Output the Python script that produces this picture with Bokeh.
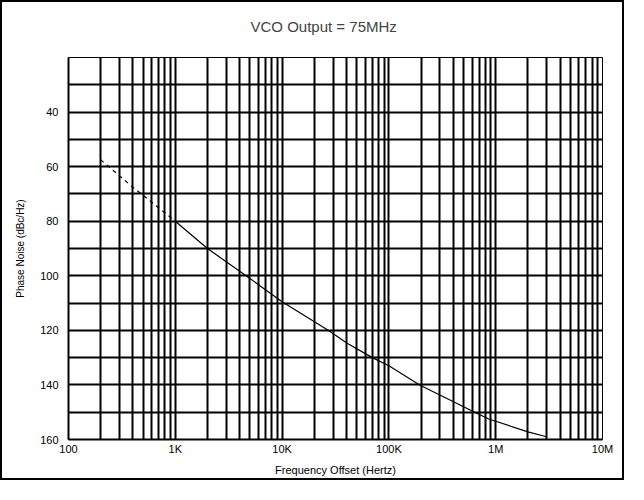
from bokeh.plotting import figure
from bokeh.models import Range1d, FixedTicker, Title
from bokeh.embed import file_html
from bokeh.resources import INLINE

# data
dash_freq = [200, 400, 1000]
dash_noise = [57.5, 67.5, 80]
solid_freq = [1000, 2000, 5000, 10000, 27000, 41000, 70000, 100000,
              194000, 500000, 860000, 1000000, 2000000, 3000000]
solid_noise = [80, 90, 101, 109.5, 120, 124.8, 130, 133,
               140, 148, 152.5, 153.3, 157.2, 159]

x_ticks = [100, 1000, 10000, 100000, 1000000, 10000000]
x_tick_labels = ["100", "1K", "10K", "100K", "1M", "10M"]
y_ticks = [40, 60, 80, 100, 120, 140, 160]
y_grid = [30, 40, 50, 60, 70, 80, 90, 100, 110, 120, 130, 140, 150]
x_grid = [m * 10 ** d for d in range(2, 7) for m in range(1, 10) if not (m == 1 and d == 2)] + [10 ** 7]
title_text = "VCO Output = 75MHz"

FONT = "Liberation Sans"

p = figure(width=624, height=480, x_axis_type="log",
           x_range=Range1d(100, 1e7), y_range=Range1d(160, 20),
           output_backend="svg", toolbar_location=None,
           min_border_left=66, min_border_right=24,
           min_border_top=55, min_border_bottom=43,
           styles={"border": "2px solid black"})

p.title.text = title_text
p.title.align = "left"
p.title.offset = 182
p.title.text_font = FONT
p.title.text_font_size = "15px"
p.title.text_font_style = "normal"
p.title.standoff = 10

spacer = Title(text=" ", text_font_size="14px", standoff=0)
p.add_layout(spacer, "above")

p.line(dash_freq, dash_noise, line_color="black", line_width=1.2, line_dash="4 4")
p.line(solid_freq, solid_noise, line_color="black", line_width=1.2)

p.xaxis.ticker = FixedTicker(ticks=x_ticks)
p.xaxis.major_label_overrides = {t: l for t, l in zip(x_ticks, x_tick_labels)}
p.yaxis.ticker = FixedTicker(ticks=y_ticks)
p.xgrid.ticker = FixedTicker(ticks=x_grid)
p.ygrid.ticker = FixedTicker(ticks=y_grid)

for g in (p.xgrid, p.ygrid):
    g.grid_line_color = "black"
    g.grid_line_width = 2
    g.grid_line_alpha = 1

for ax in (p.xaxis, p.yaxis):
    ax.axis_line_color = "black"
    ax.axis_line_width = 2
    ax.major_tick_line_color = None
    ax.minor_tick_line_color = None
    ax.major_tick_out = 0
    ax.major_tick_in = 0
    ax.minor_tick_out = 0
    ax.minor_tick_in = 0
    ax.major_label_text_font = FONT
    ax.major_label_text_font_size = "11px"
    ax.major_label_text_color = "black"
    ax.axis_label_text_font = FONT
    ax.axis_label_text_font_style = "normal"
    ax.axis_label_text_color = "black"

p.xaxis.axis_label = "Frequency Offset (Hertz)"
p.xaxis.axis_label_text_font_size = "11px"
p.xaxis.major_label_standoff = 3
p.xaxis.axis_label_standoff = 6
p.yaxis.axis_label = "Phase Noise (dBc/Hz)"
p.yaxis.axis_label_text_font_size = "10px"
p.yaxis.major_label_standoff = 10
p.yaxis.axis_label_standoff = 11

p.outline_line_color = "black"
p.outline_line_width = 1
p.outline_line_alpha = 1

open("out.html", "w").write(file_html(p, INLINE))
